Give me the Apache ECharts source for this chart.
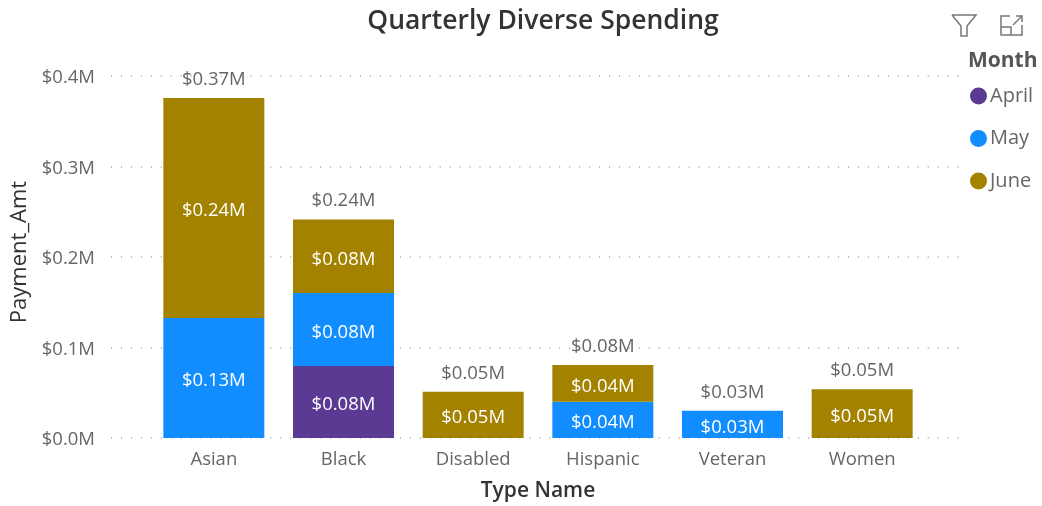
<!DOCTYPE html>
<html lang="en">
<head>
    <meta charset="UTF-8">
    <title>Quarterly Diverse Spending</title>
    <script src="https://cdn.jsdelivr.net/npm/echarts@6/dist/echarts.min.js"></script>
    <style>
        html, body { margin: 0; padding: 0; background: #fff; }
        #chart { width: 1042px; height: 506px; }
    </style>
</head>
<body>
<div id="chart"></div>
<script>
    var categories = ['Asian', 'Black', 'Disabled', 'Hispanic', 'Veteran', 'Women'];
    var april = [null, 0.0796, null, null, null, null];
    var may = [0.1326, 0.0807, null, 0.04, 0.03, null];
    var june = [0.243, 0.081, 0.051, 0.0407, null, 0.054];
    var totals = [0.37, 0.24, 0.05, 0.08, 0.03, 0.05];
    var yTicks = [0, 0.1, 0.2, 0.3, 0.4];

    var fontName = '"Open Sans", "Noto Sans", sans-serif';
    var gray = '#666666';

    function money(v) {
        return '$' + Number(v).toFixed(2) + 'M';
    }

    function barSeries(name, values, color) {
        return {
            name: name,
            type: 'bar',
            stack: 'spend',
            xAxisIndex: 1,
            yAxisIndex: 1,
            barWidth: 101,
            itemStyle: { color: color },
            label: {
                show: true,
                position: 'inside',
                offset: [0, 3],
                color: '#fff',
                fontFamily: fontName,
                fontSize: 18.5,
                formatter: function (p) { return money(p.value); }
            },
            data: values
        };
    }

    var option = {
        animation: false,
        backgroundColor: '#fff',
        title: {
            text: 'Quarterly Diverse Spending',
            left: 538,
            top: 3,
            textAlign: 'center',
            textStyle: { color: '#333', fontFamily: fontName, fontWeight: 600, fontSize: 26.5 }
        },
        legend: {
            orient: 'vertical',
            left: 965,
            top: 81,
            icon: 'circle',
            itemWidth: 17,
            itemHeight: 17,
            itemGap: 22.5,
            data: ['April', 'May', 'June'],
            textStyle: { color: gray, fontFamily: fontName, fontSize: 20, padding: [0, 0, 0, -2] }
        },
        // first grid only carries the wider dotted lines and y labels
        grid: [
            { left: 111, right: 83, top: 76, height: 362, outerBoundsMode: 'none' },
            { left: 149, width: 778, top: 76, height: 362, outerBoundsMode: 'none' }
        ],
        xAxis: [
            { gridIndex: 0, type: 'value', show: false, min: 0, max: 1 },
            {
                gridIndex: 1,
                type: 'category',
                data: categories,
                name: 'Type Name',
                nameLocation: 'middle',
                nameGap: 43,
                nameTextStyle: { color: '#333', fontFamily: fontName, fontSize: 21, fontWeight: 600 },
                axisLine: { show: false },
                axisTick: { show: false },
                axisLabel: { color: gray, fontFamily: fontName, fontSize: 18.5, margin: 12 }
            }
        ],
        yAxis: [
            {
                gridIndex: 0,
                type: 'value',
                min: 0,
                max: 0.4,
                interval: 0.1,
                name: 'Payment_Amt',
                nameLocation: 'middle',
                nameGap: 79,
                nameTextStyle: { color: '#333', fontFamily: fontName, fontSize: 22, fontWeight: 500, padding: [0, 0, 0, 10] },
                axisLine: { show: false },
                axisTick: { show: false },
                axisLabel: {
                    margin: 16,
                    formatter: function (v) { return '{tick|$' + v.toFixed(1) + 'M}'; },
                    rich: {
                        tick: { color: gray, fontFamily: fontName, fontSize: 18.5, padding: [4, 0, 0, 0] }
                    }
                },
                splitLine: { lineStyle: { color: '#bbbbbb', type: [1, 8.96], width: 2 } }
            },
            { gridIndex: 1, type: 'value', min: yTicks[0], max: yTicks[yTicks.length - 1], show: false }
        ],
        series: [
            barSeries('April', april, '#5A3A92'),
            barSeries('May', may, '#118DFF'),
            barSeries('June', june, '#A38200'),
            {
                // zero height bar on top of the stack, only holds the total label
                name: 'Total',
                type: 'bar',
                stack: 'spend',
                xAxisIndex: 1,
                yAxisIndex: 1,
                barWidth: 101,
                itemStyle: { color: 'transparent' },
                label: {
                    show: true,
                    position: 'top',
                    distance: 9,
                    color: gray,
                    fontFamily: fontName,
                    fontSize: 18.5,
                    formatter: function (p) { return money(totals[p.dataIndex]); }
                },
                data: categories.map(function () { return 0; })
            }
        ],
        graphic: [
            {
                type: 'text',
                left: 968,
                top: 51,
                style: { text: 'Month', fill: '#555', font: 'bold 21px ' + fontName }
            },
            {
                type: 'polyline',
                shape: { points: [[952, 15], [976, 15], [967, 26], [967, 36], [961, 36], [961, 26], [952, 15]] },
                style: { fill: 'none', stroke: '#777', lineWidth: 1.5 }
            },
            {
                type: 'polyline',
                shape: { points: [[1010, 16], [1001, 16], [1001, 35], [1022, 35], [1022, 25]] },
                style: { fill: 'none', stroke: '#777', lineWidth: 1.5 }
            },
            {
                type: 'polyline',
                shape: { points: [[1001, 27], [1011, 27], [1011, 35]] },
                style: { fill: 'none', stroke: '#777', lineWidth: 1.5 }
            },
            {
                type: 'polyline',
                shape: { points: [[1013, 25], [1022, 16]] },
                style: { fill: 'none', stroke: '#777', lineWidth: 1.5 }
            },
            {
                type: 'polyline',
                shape: { points: [[1016, 16], [1022, 16], [1022, 22]] },
                style: { fill: 'none', stroke: '#777', lineWidth: 1.5 }
            }
        ]
    };

    var myChart = echarts.init(document.getElementById('chart'));
    myChart.setOption(option);
</script>
</body>
</html>
